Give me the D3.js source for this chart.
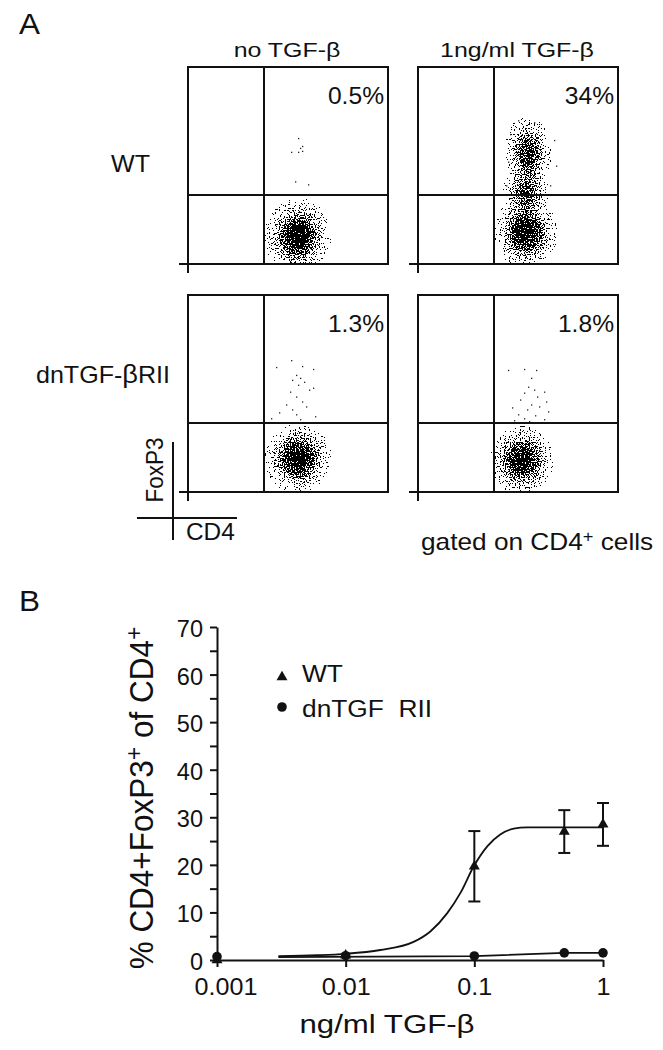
<!DOCTYPE html>
<html>
<head>
<meta charset="utf-8">
<script src="https://cdn.jsdelivr.net/npm/d3@7"></script>
<style>
body { margin: 0; background: #fff; }
</style>
</head>
<body>
<div id="fig"></div>
<script>
// ---------- panel A : flow plots ----------
const strains = ['WT', 'dnTGF-βRII'];
const treatments = ['no TGF-β', '1ng/ml TGF-β'];
const foxp3Pct = [[0.5, 34], [1.3, 1.8]];
const gateCD4 = 38, gateFoxP3 = 35;
// cell populations: [row, col, CD4 centre, FoxP3 centre, CD4 spread, FoxP3 spread, peak density]
const populations = [
  [0, 0, 55, 14, 17, 20, 1],
  [0, 1, 55, 56, 12, 20, 0.8],
  [0, 1, 54, 36, 12, 14, 0.7],
  [0, 1, 54, 16, 16, 19, 1],
  [1, 0, 55, 17, 17, 18, 1],
  [1, 1, 52, 16, 16, 18, 1]
];
// scattered single events: [row, col, CD4, FoxP3]
const events = [
  [0, 0, 55, 64], [0, 0, 56, 59], [0, 0, 57, 60], [0, 0, 51.5, 57], [0, 0, 55, 57],
  [0, 0, 57, 57.5], [0, 0, 53.5, 42], [0, 0, 60, 40.5],
  [0, 1, 46, 66], [0, 1, 68, 63], [0, 1, 45, 52], [0, 1, 69, 50], [0, 1, 58, 72],
  [0, 1, 50, 73], [0, 1, 66, 40], [0, 1, 44, 40],
  [1, 0, 51.5, 67], [1, 0, 57, 64], [1, 0, 62.5, 62.5], [1, 0, 44, 63.5], [1, 0, 54, 59.5],
  [1, 0, 56, 58], [1, 0, 52, 57], [1, 0, 58, 56], [1, 0, 55, 54.5], [1, 0, 60.5, 52],
  [1, 0, 51, 51], [1, 0, 62.5, 53], [1, 0, 54, 48.5], [1, 0, 57, 46], [1, 0, 49, 44.5],
  [1, 0, 59, 43.5], [1, 0, 52, 42], [1, 0, 45.5, 40.5], [1, 0, 54, 39.5], [1, 0, 63.5, 38.5],
  [1, 0, 41.5, 37.5], [1, 0, 56, 37],
  [1, 1, 45, 62], [1, 1, 53, 62.5], [1, 1, 59, 62], [1, 1, 56.5, 58], [1, 1, 55, 53.5],
  [1, 1, 58, 52], [1, 1, 63, 51], [1, 1, 53, 50.5], [1, 1, 59.5, 48.5], [1, 1, 51, 47],
  [1, 1, 64, 46], [1, 1, 56.5, 44.5], [1, 1, 60.5, 43.5], [1, 1, 47, 43], [1, 1, 54.5, 42],
  [1, 1, 65, 41], [1, 1, 50, 39.5], [1, 1, 58.5, 39], [1, 1, 53, 37.5], [1, 1, 63, 37],
  [1, 1, 55.5, 36], [1, 1, 48, 36.5]
];

// ---------- panel B : dose response ----------
const doses = [0.001, 0.01, 0.1, 0.5, 1];
const wtMean = [0, 1.0, 19.7, 27.0, 28.5];
const wtErr = [0, 0, 7.4, 4.5, 4.5];
const dnMean = [0.7, 0.9, 0.85, 1.5, 1.5];
const wtFitDose = [0.003, 0.006, 0.01, 0.0186, 0.0337, 0.0455, 0.0614, 0.078, 0.099, 0.126, 0.159, 0.202, 0.257, 0.5, 1];
const wtFitPct = [0.8, 1.0, 1.3, 2.1, 3.8, 6.0, 9.8, 14.1, 19.7, 23.9, 26.4, 27.6, 27.9, 27.9, 27.9];
const dnFitDose = [0.003, 0.1, 0.5, 1];
const dnFitPct = [0.6, 0.8, 1.5, 1.5];
const doseTicks = [0.001, 0.01, 0.1, 1];
const doseTickLabels = ['0.001', '0.01', '0.1', '1'];
const pctTicks = [0, 5, 10, 15, 20, 25, 30, 35, 40, 45, 50, 55, 60, 65, 70];
const seriesNames = ['WT', 'dnTGF  RII'];

const W = 663, H = 1050;
const INK = '#111';

const svg = d3.select('#fig').append('svg')
  .attr('width', W).attr('height', H)
  .attr('font-family', '"Liberation Sans", Arial, Helvetica, sans-serif');
svg.append('rect').attr('width', W).attr('height', H).attr('fill', '#fff');

// the lettering in the figure is stretched sideways, sx widens the glyphs
function label(parent, x, y, size, sx, anchor, rot) {
  return parent.append('text')
    .attr('transform', `translate(${x},${y}) scale(${sx},1)` + (rot ? ` rotate(${rot})` : ''))
    .attr('font-size', size)
    .attr('text-anchor', anchor || 'start')
    .attr('fill', INK);
}

// ---------- defs ----------
const boxW = 200, boxH = 197;
const colX = [188, 418], rowY = [67, 295];
const defs = svg.append('defs');
const grad = defs.append('radialGradient').attr('id', 'popGrad');
[[0, 1], [0.25, 0.9], [0.55, 0.45], [0.8, 0.12], [1, 0]].forEach(s => {
  grad.append('stop').attr('offset', s[0]).attr('stop-color', '#000').attr('stop-opacity', s[1]);
});
defs.append('clipPath').attr('id', 'boxClip')
  .append('rect').attr('width', boxW).attr('height', boxH);

// turns a smooth density into single dots
function speckle(id, seed) {
  const f = defs.append('filter').attr('id', id)
    .attr('filterUnits', 'userSpaceOnUse')
    .attr('x', 0).attr('y', 0).attr('width', boxW).attr('height', boxH)
    .attr('color-interpolation-filters', 'sRGB');
  f.append('feTurbulence').attr('type', 'fractalNoise').attr('baseFrequency', 0.8)
    .attr('numOctaves', 1).attr('seed', seed).attr('result', 'noise');
  f.append('feColorMatrix').attr('in', 'noise').attr('type', 'matrix')
    .attr('values', '0 0 0 0 0  0 0 0 0 0  0 0 0 0 0  3 0 0 0 -1').attr('result', 'na');
  f.append('feComposite').attr('in', 'SourceAlpha').attr('in2', 'na')
    .attr('operator', 'arithmetic')
    .attr('k1', 0).attr('k2', 1).attr('k3', -1).attr('k4', 0.49)
    .attr('result', 'diff');
  const ct = f.append('feComponentTransfer').attr('in', 'diff');
  ['feFuncR', 'feFuncG', 'feFuncB'].forEach(n => ct.append(n).attr('type', 'linear').attr('slope', 0).attr('intercept', 0));
  ct.append('feFuncA').attr('type', 'discrete').attr('tableValues', '0 1');
}

// ---------- panel A ----------
label(svg, 19, 34, 30, 1.05).text('A');

const cd4 = d3.scaleLinear().domain([0, 100]).range([0, boxW]);
const foxp3 = d3.scaleLinear().domain([0, 100]).range([boxH, 0]);

treatments.forEach((t, c) => {
  label(svg, colX[c] + boxW / 2 - 1, 57, 19.5, 1.28, 'middle').text(t);
});

label(svg, 111, 172, 23, 1.09).text(strains[0]);
const dnLab = label(svg, 36, 383, 23, 1.09);
dnLab.append('tspan').text('dnTGF-');
dnLab.append('tspan').attr('font-size', 25).text('β');
dnLab.append('tspan').text('RII');

strains.forEach((s, r) => {
  treatments.forEach((t, c) => {
    const k = r * 2 + c;
    speckle('speckle' + k, 7 + k * 13);
    const g = svg.append('g').attr('transform', `translate(${colX[c]},${rowY[r]})`);

    g.append('g').attr('clip-path', 'url(#boxClip)')
      .append('g').attr('filter', `url(#speckle${k})`)
      .selectAll('ellipse')
      .data(populations.filter(p => p[0] === r && p[1] === c))
      .join('ellipse')
      .attr('cx', p => cd4(p[2]))
      .attr('cy', p => foxp3(p[3]))
      .attr('rx', p => cd4(p[4]) - cd4(0))
      .attr('ry', p => foxp3(0) - foxp3(p[5]))
      .attr('fill', 'url(#popGrad)')
      .attr('fill-opacity', p => p[6]);

    g.selectAll('rect.ev')
      .data(events.filter(e => e[0] === r && e[1] === c))
      .join('rect')
      .attr('class', 'ev')
      .attr('x', e => cd4(e[2]))
      .attr('y', e => foxp3(e[3]))
      .attr('width', 1.3).attr('height', 1.3)
      .attr('fill', '#222');

    g.append('rect').attr('width', boxW).attr('height', boxH)
      .attr('fill', 'none').attr('stroke', INK).attr('stroke-width', 2);
    g.append('line')
      .attr('x1', cd4(gateCD4)).attr('x2', cd4(gateCD4))
      .attr('y1', foxp3(100)).attr('y2', foxp3(0))
      .attr('stroke', INK).attr('stroke-width', 2);
    g.append('line')
      .attr('x1', cd4(0)).attr('x2', cd4(100))
      .attr('y1', foxp3(gateFoxP3)).attr('y2', foxp3(gateFoxP3))
      .attr('stroke', INK).attr('stroke-width', 2);
    // axis stubs
    g.append('line').attr('x1', -9).attr('x2', 0).attr('y1', boxH).attr('y2', boxH)
      .attr('stroke', INK).attr('stroke-width', 2);
    g.append('line').attr('x1', 0).attr('x2', 0).attr('y1', boxH).attr('y2', boxH + 9)
      .attr('stroke', INK).attr('stroke-width', 2);

    label(g, boxW - 4, 37, 23, 1.07, 'end').text(foxp3Pct[r][c] + '%');
  });
});

// orientation key
svg.append('line').attr('x1', 173).attr('x2', 173).attr('y1', 442).attr('y2', 540)
  .attr('stroke', INK).attr('stroke-width', 2);
svg.append('line').attr('x1', 137).attr('x2', 237).attr('y1', 518).attr('y2', 518)
  .attr('stroke', INK).attr('stroke-width', 2);
label(svg, 163, 470, 22.5, 1.1, 'middle', -90).text('FoxP3');
label(svg, 186, 540, 23, 1.06).text('CD4');

const gated = label(svg, 421, 550, 23, 1.14);
gated.append('tspan').text('gated on CD4');
gated.append('tspan').attr('font-size', 16).attr('dy', -8).text('+');
gated.append('tspan').attr('dy', 8).text(' cells');

// ---------- panel B ----------
label(svg, 19, 611, 30, 1.05).text('B');

const x = d3.scaleLog().domain([0.001, 1]).range([217, 603]);
const y = d3.scaleLinear().domain([0, 70]).range([960, 627]);
const gB = svg.append('g');

function styleAxis(g) {
  g.attr('font-family', null).attr('font-size', null);
  g.selectAll('path, line').attr('stroke', INK).attr('stroke-width', 2);
  g.selectAll('text').attr('font-size', 23.5).attr('fill', INK);
}

gB.append('g')
  .attr('transform', `translate(${x(0.001)},0)`)
  .call(d3.axisLeft(y).tickValues(pctTicks).tickSize(7).tickSizeOuter(0).tickPadding(7)
    .tickFormat(d => d % 10 === 0 ? d : ''))
  .call(styleAxis)
  .call(g => g.selectAll('text').attr('dy', 9.5));

gB.append('g')
  .attr('transform', `translate(0,${y(0)})`)
  .call(d3.axisBottom(x).tickValues(doseTicks).tickSize(7).tickSizeOuter(0).tickPadding(11)
    .tickFormat((d, i) => doseTickLabels[i]))
  .call(styleAxis)
  .call(g => g.selectAll('text').attr('dy', 17).attr('transform', 'scale(1.07,1)')
    .attr('dx', (d, i) => i === 0 ? 8 : 0));

const yt = label(svg, 153, 798, 31.5, 1.08, 'middle', -90);
yt.append('tspan').text('% CD4+FoxP3');
yt.append('tspan').attr('font-size', 23).attr('dy', -10).text('+');
yt.append('tspan').attr('dy', 10).text(' of CD4');
yt.append('tspan').attr('font-size', 23).attr('dy', -10).text('+');

label(svg, 387, 1033, 26, 1.2, 'middle').text('ng/ml TGF-β');

// fitted curves
const line = d3.line().x(d => x(d[0])).y(d => y(d[1]));
gB.append('path')
  .datum(d3.zip(dnFitDose, dnFitPct))
  .attr('d', line)
  .attr('fill', 'none').attr('stroke', INK).attr('stroke-width', 1.8);
gB.append('path')
  .datum(d3.zip(wtFitDose, wtFitPct))
  .attr('d', line.curve(d3.curveMonotoneX))
  .attr('fill', 'none').attr('stroke', INK).attr('stroke-width', 1.8);

// error bars
const bars = doses.map((d, i) => ({ d, m: wtMean[i], e: wtErr[i] })).filter(b => b.e > 0);
const eb = gB.selectAll('g.eb').data(bars).join('g').attr('class', 'eb')
  .attr('stroke', INK).attr('stroke-width', 2);
eb.append('line').attr('x1', b => x(b.d)).attr('x2', b => x(b.d))
  .attr('y1', b => y(b.m - b.e)).attr('y2', b => y(b.m + b.e));
eb.append('line').attr('x1', b => x(b.d) - 6).attr('x2', b => x(b.d) + 6)
  .attr('y1', b => y(b.m + b.e)).attr('y2', b => y(b.m + b.e));
eb.append('line').attr('x1', b => x(b.d) - 6).attr('x2', b => x(b.d) + 6)
  .attr('y1', b => y(b.m - b.e)).attr('y2', b => y(b.m - b.e));

// markers
const tri = d3.symbol(d3.symbolTriangle, 52);
gB.selectAll('circle.dn').data(doses).join('circle').attr('class', 'dn')
  .attr('cx', d => x(d)).attr('cy', (d, i) => y(dnMean[i])).attr('r', 4.8).attr('fill', INK);
gB.selectAll('path.wt').data(doses).join('path').attr('class', 'wt')
  .attr('d', tri)
  .attr('transform', (d, i) => `translate(${x(d)},${y(wtMean[i])})`)
  .attr('fill', INK);

// legend
const lg = svg.append('g').attr('transform', 'translate(282,677)');
lg.append('path').attr('d', tri).attr('fill', INK);
lg.append('circle').attr('cy', 30).attr('r', 4.8).attr('fill', INK);
seriesNames.forEach((n, i) => {
  label(lg, 20, 5 + i * 35, 23.5, 1.12).style('white-space', 'pre').text(n);
});
</script>
</body>
</html>
